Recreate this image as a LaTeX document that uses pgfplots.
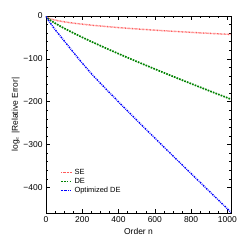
\documentclass[border=0pt]{standalone}
\usepackage{pgfplots}
\pgfplotsset{compat=1.18}
\usepackage{fontspec}
\setmainfont{Liberation Sans}
\begin{document}
\begin{tikzpicture}
\useasboundingbox (-46bp,-36bp) rectangle (203bp,213bp);
\begin{axis}[
  at={(0,0)}, anchor=south west,
  scale only axis, width=185bp, height=197bp,
  xmin=0, xmax=1020, ymin=-460, ymax=0,
  xtick={0,200,400,600,800,1000},
  xticklabels={0,200,400,600,800,1000},
  ytick={-400,-300,-200,-100,0},
  yticklabels={−400,−300,−200,−100,0},
  minor x tick num=3, minor y tick num=4,
  tick align=inside, tick pos=both,
  major tick length=4bp, minor tick length=2bp,
  axis line style={black, line width=0.5pt},
  tick style={black, line width=0.4pt},
  tick label style={font=\fontsize{8.5}{10}\selectfont},
  label style={font=\fontsize{8.5}{10}\selectfont},
  xlabel={Order n},
  ylabel={log$_e$ |Relative Error|},
  xlabel style={yshift=1bp},
  ylabel style={yshift=-3bp},
  legend style={draw=none, fill=none, at={(0.06,0.245)}, anchor=north west,
    font=\fontsize{7.5}{9}\selectfont, row sep=-1.5bp},
  legend cell align=left,
  legend image post style={xscale=0.62},
]
\addplot[color={rgb,255:red,255;green,90;blue,90}, line width=1.4pt, dash pattern=on 0.7pt off 0.7pt] coordinates {
(0,0) (2,-1.9) (10,-4.3) (20,-6.0) (40,-8.5) (60,-10.5) (80,-12.1) (100,-13.5)
(140,-16.0) (180,-18.1) (220,-20.0) (260,-21.8) (300,-23.4) (340,-24.9)
(380,-26.3) (420,-27.7) (460,-29.0) (500,-30.2) (540,-31.4) (580,-32.5)
(620,-33.6) (660,-34.7) (700,-35.7) (740,-36.7) (780,-37.7) (820,-38.7)
(860,-39.6) (900,-40.5) (940,-41.4) (980,-42.3) (1020,-43.1)};
\addlegendentry{SE}
\addplot[color={rgb,255:red,0;green,130;blue,0}, line width=1.7pt, dash pattern=on 1.7pt off 1.1pt] coordinates {
(0,0) (2,-2.0) (10,-5.7) (20,-8.8) (40,-14.3) (60,-19.3) (80,-24.1) (100,-28.7)
(140,-37.4) (180,-45.8) (220,-53.8) (260,-61.7) (300,-69.4) (340,-77.0)
(380,-84.4) (420,-91.8) (460,-99.0) (500,-106.2) (540,-113.3) (580,-120.3)
(620,-127.3) (660,-134.2) (700,-141.1) (740,-147.9) (780,-154.6) (820,-161.3)
(860,-168.0) (900,-174.7) (940,-181.3) (980,-187.8) (1020,-194.3)};
\addlegendentry{DE}
\addplot[color={rgb,255:red,0;green,0;blue,255}, line width=1.4pt, dash pattern=on 1.6pt off 1pt on 0.7pt off 1pt] coordinates {
(0,0) (2,-2.5) (10,-8) (20,-14) (40,-26) (60,-37) (80,-47.5) (100,-58)
(140,-79) (180,-100) (220,-120) (260,-139.2) (300,-157.0) (340,-174.5)
(380,-191.8) (420,-209.0) (460,-226.1) (500,-243.0) (540,-259.8) (580,-276.6)
(620,-293.3) (660,-310.0) (700,-326.6) (740,-343.1) (780,-359.6) (820,-376.2)
(860,-392.6) (900,-409.1) (940,-425.5) (980,-441.9) (1020,-458.5)};
\addlegendentry{Optimized DE}
\end{axis}
\end{tikzpicture}
\end{document}
